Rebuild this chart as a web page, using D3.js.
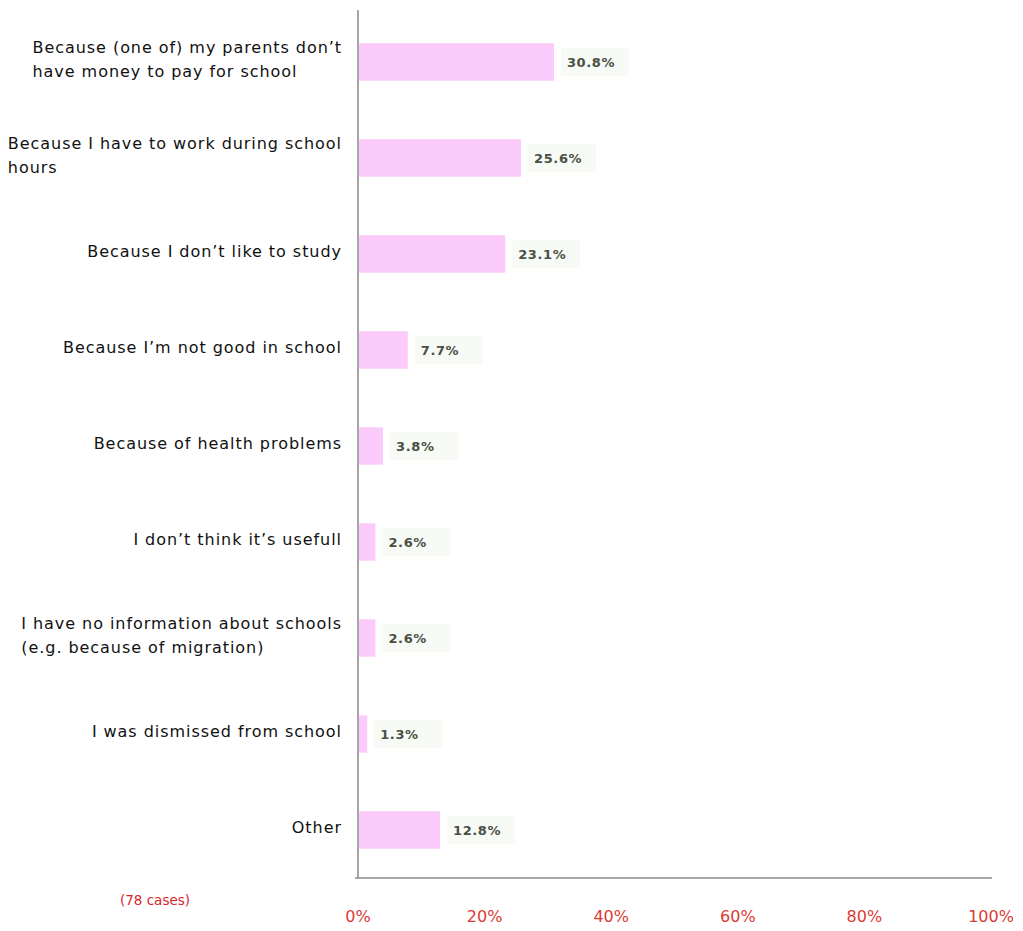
<!DOCTYPE html>
<html>
<head>
<meta charset="utf-8">
<script src="https://cdn.jsdelivr.net/npm/d3@7"></script>
<style>
  html, body { margin: 0; padding: 0; background: #fff; }
  svg { display: block; }
</style>
</head>
<body>
<svg id="chart" width="1023" height="931"></svg>
<script>
// Reasons for not attending school (share of respondents)
const categories = [
  ["Because (one of) my parents don\u2019t", "have money to pay for school"],
  ["Because I have to work during school", "hours"],
  ["Because I don\u2019t like to study"],
  ["Because I\u2019m not good in school"],
  ["Because of health problems"],
  ["I don\u2019t think it\u2019s usefull"],
  ["I have no information about schools", "(e.g. because of migration)"],
  ["I was dismissed from school"],
  ["Other"]
];
const values = [30.8, 25.6, 23.1, 7.7, 3.8, 2.6, 2.6, 1.3, 12.8];
const xTicks = [0, 20, 40, 60, 80, 100];
const note = "(78 cases)";

const svg = d3.select("#chart");
const plotLeft = 358, plotRight = 991, plotTop = 14, plotBottom = 878;

const x = d3.scaleLinear().domain([0, 100]).range([plotLeft, plotRight]);
const y = d3.scaleBand().domain(d3.range(categories.length))
  .range([plotTop, plotBottom]).paddingInner(0.61).paddingOuter(0.305);

// bars
svg.append("g").selectAll("rect").data(values).join("rect")
  .attr("x", x(0) + 1)
  .attr("y", (d, i) => y(i))
  .attr("width", d => x(d) - x(0))
  .attr("height", y.bandwidth())
  .attr("fill", "#fbcbfb");

// value labels on a faint backing box
const vl = svg.append("g").selectAll("g").data(values).join("g")
  .attr("transform", (d, i) => `translate(${x(d) + 14},${y(i) + y.bandwidth() / 2})`);
vl.append("rect")
  .attr("x", -6).attr("y", -14).attr("width", 68).attr("height", 28)
  .attr("fill", "#f8faf5");
vl.append("text")
  .attr("dy", "0.35em")
  .attr("font-family", "DejaVu Sans, Verdana, sans-serif")
  .attr("font-size", 13)
  .attr("font-weight", "bold")
  .attr("letter-spacing", 0.6)
  .attr("fill", "#4a5044")
  .text(d => d.toFixed(1) + "%");

// axis lines
svg.append("line").attr("x1", plotLeft).attr("x2", plotLeft).attr("y1", 10).attr("y2", plotBottom)
  .attr("stroke", "#8a8a8a").attr("stroke-width", 1.5);
svg.append("line").attr("x1", plotLeft - 3).attr("x2", 992).attr("y1", plotBottom).attr("y2", plotBottom)
  .attr("stroke", "#8a8a8a").attr("stroke-width", 1.5);

// category labels: block right-aligned, lines left-aligned within the block
const labelRight = 342;
const cg = svg.append("g")
  .attr("font-family", "DejaVu Sans, Verdana, sans-serif")
  .attr("font-size", 16)
  .attr("letter-spacing", 0.95)
  .attr("fill", "#111");
categories.forEach((lines, i) => {
  const cy = y(i) + y.bandwidth() / 2 - 3;
  const t = cg.append("text").attr("text-anchor", "start");
  const lh = 24;
  lines.forEach((ln, j) => {
    t.append("tspan")
      .attr("x", 0)
      .attr("y", cy + (j - (lines.length - 1) / 2) * lh)
      .attr("dy", "0.35em")
      .text(ln);
  });
  const w = d3.max(t.selectAll("tspan").nodes(), n => n.getComputedTextLength());
  t.selectAll("tspan").attr("x", labelRight - w);
});

// x tick labels
svg.append("g").selectAll("text").data(xTicks).join("text")
  .attr("x", d => x(d))
  .attr("y", 922)
  .attr("text-anchor", "middle")
  .attr("font-family", "DejaVu Sans, Verdana, sans-serif")
  .attr("font-size", 16)
  .attr("fill", "#dc3b34")
  .text(d => d + "%");

svg.append("text")
  .attr("x", 155).attr("y", 905)
  .attr("text-anchor", "middle")
  .attr("font-family", "DejaVu Sans, Verdana, sans-serif")
  .attr("font-size", 13.5)
  .attr("fill", "#d8262a")
  .text(note);
</script>
</body>
</html>
